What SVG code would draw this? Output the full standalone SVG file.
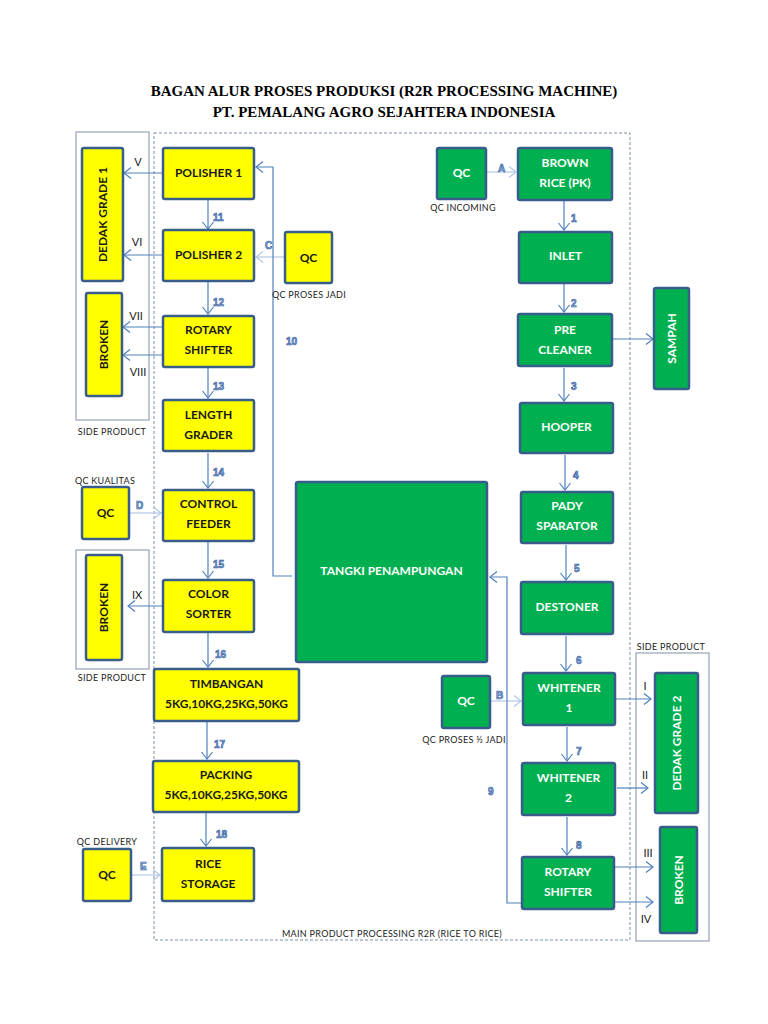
<svg xmlns="http://www.w3.org/2000/svg" width="768" height="1024" viewBox="0 0 768 1024">
<style>
  .y{fill:#ffff00;stroke:#385d8a;stroke-width:2.5}
  .g{fill:#00b050;stroke:#385d8a;stroke-width:2.5}
  .tk{font-family:Lato,"Liberation Sans",sans-serif;font-weight:bold;font-size:12px;fill:#1a1a1a;text-anchor:middle}
  .tw{font-family:Lato,"Liberation Sans",sans-serif;font-weight:bold;font-size:12px;fill:#ffffff;text-anchor:middle}
  .sm{font-family:Lato,"Liberation Sans",sans-serif;font-size:9px;fill:#222;text-anchor:middle;letter-spacing:0.3px}
  .rm{font-family:Lato,"Liberation Sans",sans-serif;font-size:11px;fill:#222;text-anchor:middle}
  .num{font-family:"Liberation Sans",sans-serif;font-weight:bold;font-size:10px;fill:#8eb4e3;stroke:#2f5597;stroke-width:0.6}
  .ln{fill:none;stroke:#4f81bd;stroke-width:1.2}
  .lq{fill:none;stroke:#b4c7e7;stroke-width:1.2}
  .frame{fill:none;stroke:#7f8fa6;stroke-width:1}
  .title{font-family:"Liberation Serif",serif;font-weight:bold;font-size:15px;fill:#000;text-anchor:middle}
</style>
<defs>
  <marker id="ah" markerUnits="userSpaceOnUse" markerWidth="9" markerHeight="13" viewBox="0 0 9 13" refX="8" refY="6.5" orient="auto">
    <path d="M1,1 L8,6.5 L1,12" fill="none" stroke="#4f81bd" stroke-width="1.2"/>
  </marker>
  <marker id="aq" markerUnits="userSpaceOnUse" markerWidth="9" markerHeight="13" viewBox="0 0 9 13" refX="8" refY="6.5" orient="auto">
    <path d="M1,1 L8,6.5 L1,12" fill="none" stroke="#b4c7e7" stroke-width="1.2"/>
  </marker>
</defs>
<rect width="768" height="1024" fill="#ffffff"/>

<g id="title">
  <text class="title" x="384" y="96">BAGAN ALUR PROSES PRODUKSI (R2R PROCESSING MACHINE)</text>
  <text class="title" x="384" y="117">PT. PEMALANG AGRO SEJAHTERA INDONESIA</text>
</g>

<g id="frames">
  <rect x="154" y="133" width="476" height="807" fill="none" stroke="#7f8fa6" stroke-width="1" stroke-dasharray="3,2"/>
  <text class="sm" x="392" y="937">MAIN PRODUCT PROCESSING R2R (RICE TO RICE)</text>
  <rect class="frame" x="76" y="132" width="73" height="288"/>
  <text class="sm" x="112" y="435">SIDE PRODUCT</text>
  <rect class="frame" x="76" y="550" width="73" height="119"/>
  <text class="sm" x="112" y="681">SIDE PRODUCT</text>
  <rect class="frame" x="636" y="653" width="73" height="288"/>
  <text class="sm" x="671" y="650">SIDE PRODUCT</text>
</g>

<g id="connectors">
  <!-- yellow column -->
  <line class="ln" x1="208" y1="200" x2="208" y2="229" marker-end="url(#ah)"/>
  <line class="ln" x1="208" y1="282" x2="208" y2="314" marker-end="url(#ah)"/>
  <line class="ln" x1="208" y1="368" x2="208" y2="398" marker-end="url(#ah)"/>
  <line class="ln" x1="208" y1="453" x2="208" y2="488" marker-end="url(#ah)"/>
  <line class="ln" x1="208" y1="542" x2="208" y2="578" marker-end="url(#ah)"/>
  <line class="ln" x1="208" y1="633" x2="208" y2="667" marker-end="url(#ah)"/>
  <line class="ln" x1="207" y1="722" x2="207" y2="759" marker-end="url(#ah)"/>
  <line class="ln" x1="206" y1="813" x2="206" y2="846" marker-end="url(#ah)"/>
  <!-- side outputs left -->
  <line class="ln" x1="162" y1="173" x2="124" y2="173" marker-end="url(#ah)"/>
  <line class="ln" x1="162" y1="255" x2="124" y2="255" marker-end="url(#ah)"/>
  <line class="ln" x1="162" y1="327" x2="123" y2="327" marker-end="url(#ah)"/>
  <line class="ln" x1="162" y1="355" x2="123" y2="355" marker-end="url(#ah)"/>
  <line class="ln" x1="162" y1="606" x2="128" y2="606" marker-end="url(#ah)"/>
  <!-- QC inputs -->
  <line class="lq" x1="285" y1="257" x2="256" y2="257" marker-end="url(#aq)"/>
  <line class="lq" x1="130" y1="513" x2="161" y2="513" marker-end="url(#aq)"/>
  <line class="lq" x1="132" y1="875" x2="160" y2="875" marker-end="url(#aq)"/>
  <line class="lq" x1="487" y1="172" x2="516" y2="172" marker-end="url(#aq)"/>
  <line class="lq" x1="491" y1="701" x2="521" y2="701" marker-end="url(#aq)"/>
  <!-- loop 10 -->
  <path class="ln" d="M292,576 L273,576 L273,167 L256,167" marker-end="url(#ah)"/>
  <!-- loop 9 -->
  <path class="ln" d="M522,903 L507,903 L507,577 L490,577" marker-end="url(#ah)"/>
  <!-- green column -->
  <line class="ln" x1="564" y1="201" x2="564" y2="230" marker-end="url(#ah)"/>
  <line class="ln" x1="564" y1="284" x2="564" y2="312" marker-end="url(#ah)"/>
  <line class="ln" x1="564" y1="368" x2="564" y2="401" marker-end="url(#ah)"/>
  <line class="ln" x1="565" y1="455" x2="565" y2="490" marker-end="url(#ah)"/>
  <line class="ln" x1="566" y1="545" x2="566" y2="580" marker-end="url(#ah)"/>
  <line class="ln" x1="566" y1="636" x2="566" y2="671" marker-end="url(#ah)"/>
  <line class="ln" x1="567" y1="727" x2="567" y2="761" marker-end="url(#ah)"/>
  <line class="ln" x1="567" y1="817" x2="567" y2="855" marker-end="url(#ah)"/>
  <!-- right outputs -->
  <line class="ln" x1="613" y1="339" x2="653" y2="339" marker-end="url(#ah)"/>
  <line class="ln" x1="616" y1="699" x2="651" y2="699" marker-end="url(#ah)"/>
  <line class="ln" x1="617" y1="788" x2="648" y2="788" marker-end="url(#ah)"/>
  <line class="ln" x1="615" y1="867" x2="653" y2="867" marker-end="url(#ah)"/>
  <line class="ln" x1="615" y1="902" x2="653" y2="902" marker-end="url(#ah)"/>
  <!-- labels -->
  <text class="num" x="213" y="221">11</text>
  <text class="num" x="213" y="306">12</text>
  <text class="num" x="213" y="390">13</text>
  <text class="num" x="213" y="476">14</text>
  <text class="num" x="213" y="568">15</text>
  <text class="num" x="215" y="658">16</text>
  <text class="num" x="214" y="748">17</text>
  <text class="num" x="216" y="838">18</text>
  <text class="num" x="286" y="345">10</text>
  <text class="num" x="488" y="795">9</text>
  <text class="num" x="571" y="222">1</text>
  <text class="num" x="571" y="307">2</text>
  <text class="num" x="571" y="390">3</text>
  <text class="num" x="573" y="479">4</text>
  <text class="num" x="574" y="572">5</text>
  <text class="num" x="576" y="664">6</text>
  <text class="num" x="576" y="755">7</text>
  <text class="num" x="576" y="849">8</text>
  <text class="num" x="498" y="172">A</text>
  <text class="num" x="496" y="699">B</text>
  <text class="num" x="265" y="249">C</text>
  <text class="num" x="136" y="509">D</text>
  <text class="num" x="140" y="870">E</text>
  <text class="rm" x="138" y="166">V</text>
  <text class="rm" x="137" y="246">VI</text>
  <text class="rm" x="136" y="320">VII</text>
  <text class="rm" x="138" y="376">VIII</text>
  <text class="rm" x="137" y="599">IX</text>
  <text class="rm" x="645" y="690">I</text>
  <text class="rm" x="645" y="779">II</text>
  <text class="rm" x="648" y="857">III</text>
  <text class="rm" x="646" y="923">IV</text>
</g>

<g id="polisher1"><rect class="y" x="163" y="148" width="91" height="51" rx="2"/><text class="tk" x="208.5" y="177">POLISHER 1</text></g>
<g id="polisher2"><rect class="y" x="163" y="230" width="91" height="51" rx="2"/><text class="tk" x="208.5" y="259">POLISHER 2</text></g>
<g id="rotary-y"><rect class="y" x="163" y="316" width="91" height="51" rx="2"/><text class="tk" x="208.5" y="334">ROTARY</text><text class="tk" x="208.5" y="354">SHIFTER</text></g>
<g id="length"><rect class="y" x="163" y="400" width="91" height="51" rx="2"/><text class="tk" x="208.5" y="419">LENGTH</text><text class="tk" x="208.5" y="439">GRADER</text></g>
<g id="control"><rect class="y" x="163" y="490" width="91" height="51" rx="2"/><text class="tk" x="208.5" y="508">CONTROL</text><text class="tk" x="208.5" y="528">FEEDER</text></g>
<g id="color"><rect class="y" x="163" y="580" width="91" height="52" rx="2"/><text class="tk" x="208.5" y="598">COLOR</text><text class="tk" x="208.5" y="618">SORTER</text></g>
<g id="timbangan"><rect class="y" x="154" y="669" width="145" height="52" rx="2"/><text class="tk" x="226.5" y="688">TIMBANGAN</text><text class="tk" x="226.5" y="708">5KG,10KG,25KG,50KG</text></g>
<g id="packing"><rect class="y" x="153" y="761" width="146" height="51" rx="2"/><text class="tk" x="226" y="779">PACKING</text><text class="tk" x="226" y="799">5KG,10KG,25KG,50KG</text></g>
<g id="storage"><rect class="y" x="162" y="848" width="92" height="53" rx="2"/><text class="tk" x="208" y="868">RICE</text><text class="tk" x="208" y="888">STORAGE</text></g>
<g id="qc-delivery"><rect class="y" x="83" y="849" width="48" height="52" rx="2"/><text class="tk" x="107" y="879">QC</text><text class="sm" x="107" y="845">QC DELIVERY</text></g>
<g id="qc-kualitas"><rect class="y" x="82" y="487" width="47" height="52" rx="2"/><text class="tk" x="105.5" y="517">QC</text><text class="sm" x="105" y="484">QC KUALITAS</text></g>
<g id="qc-jadi"><rect class="y" x="285" y="232" width="47" height="51" rx="2"/><text class="tk" x="308.5" y="262">QC</text><text class="sm" x="309" y="298">QC PROSES JADI</text></g>
<g id="dedak1"><rect class="y" x="82" y="148" width="41" height="133" rx="2"/><text class="tk" transform="translate(107,214.5) rotate(-90)" x="0" y="0">DEDAK GRADE 1</text></g>
<g id="broken1"><rect class="y" x="86" y="293" width="36" height="103" rx="2"/><text class="tk" transform="translate(108,344.5) rotate(-90)" x="0" y="0">BROKEN</text></g>
<g id="broken2"><rect class="y" x="86" y="555" width="36" height="105" rx="2"/><text class="tk" transform="translate(108,607.5) rotate(-90)" x="0" y="0">BROKEN</text></g>

<g id="tangki"><rect class="g" x="296" y="482" width="191" height="180" rx="2"/><text class="tw" x="391.5" y="575">TANGKI PENAMPUNGAN</text></g>
<g id="qc-incoming"><rect class="g" x="437" y="148" width="49" height="51" rx="2"/><text class="tw" x="461.5" y="177">QC</text><text class="sm" x="463" y="211">QC INCOMING</text></g>
<g id="brown"><rect class="g" x="518" y="148" width="94" height="52" rx="2"/><text class="tw" x="565" y="167">BROWN</text><text class="tw" x="565" y="187">RICE (PK)</text></g>
<g id="inlet"><rect class="g" x="519" y="232" width="93" height="51" rx="2"/><text class="tw" x="565.5" y="260">INLET</text></g>
<g id="precleaner"><rect class="g" x="518" y="314" width="94" height="52" rx="2"/><text class="tw" x="565" y="334">PRE</text><text class="tw" x="565" y="354">CLEANER</text></g>
<g id="hooper"><rect class="g" x="520" y="403" width="93" height="50" rx="2"/><text class="tw" x="566.5" y="431">HOOPER</text></g>
<g id="pady"><rect class="g" x="521" y="492" width="92" height="51" rx="2"/><text class="tw" x="567" y="510">PADY</text><text class="tw" x="567" y="530">SPARATOR</text></g>
<g id="destoner"><rect class="g" x="521" y="582" width="92" height="52" rx="2"/><text class="tw" x="567" y="611">DESTONER</text></g>
<g id="whitener1"><rect class="g" x="523" y="673" width="92" height="52" rx="2"/><text class="tw" x="569" y="692">WHITENER</text><text class="tw" x="569" y="712">1</text></g>
<g id="qc-setengah"><rect class="g" x="442" y="676" width="48" height="52" rx="2"/><text class="tw" x="466" y="705">QC</text><text class="sm" x="464" y="743">QC PROSES ½ JADI</text></g>
<g id="whitener2"><rect class="g" x="522" y="763" width="93" height="52" rx="2"/><text class="tw" x="568.5" y="782">WHITENER</text><text class="tw" x="568.5" y="802">2</text></g>
<g id="rotary-g"><rect class="g" x="522" y="857" width="92" height="52" rx="2"/><text class="tw" x="568" y="876">ROTARY</text><text class="tw" x="568" y="896">SHIFTER</text></g>
<g id="sampah"><rect class="g" x="654" y="288" width="35" height="101" rx="2"/><text class="tw" transform="translate(675.5,338.5) rotate(-90)" x="0" y="0">SAMPAH</text></g>
<g id="dedak2"><rect class="g" x="655" y="673" width="43" height="140" rx="2"/><text class="tw" transform="translate(681,743) rotate(-90)" x="0" y="0">DEDAK GRADE 2</text></g>
<g id="broken3"><rect class="g" x="660" y="827" width="37" height="106" rx="2"/><text class="tw" transform="translate(683,880) rotate(-90)" x="0" y="0">BROKEN</text></g>
</svg>
